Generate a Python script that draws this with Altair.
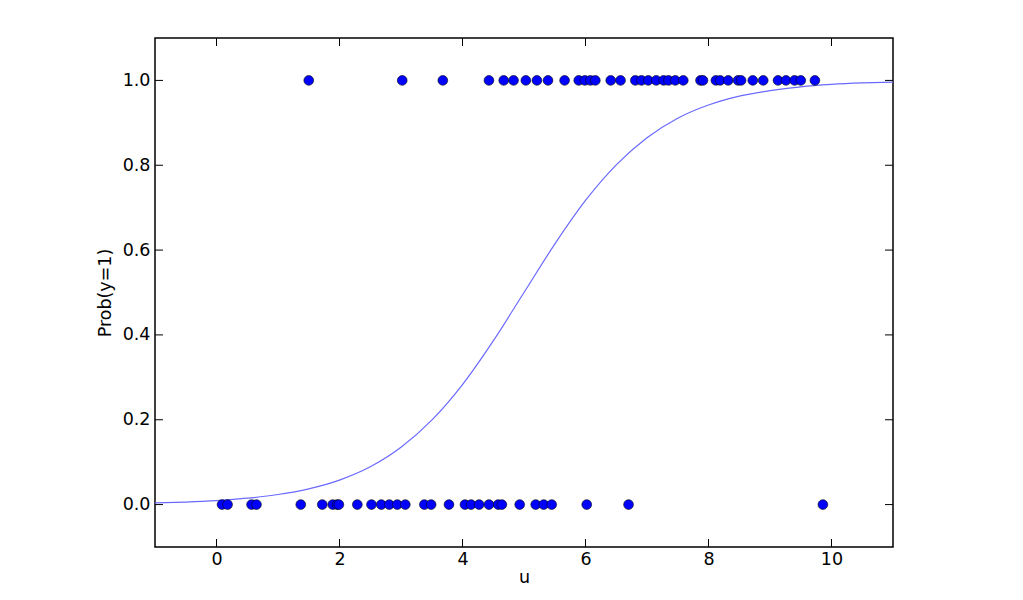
import altair as alt
import pandas as pd

# observations with y = 1
u_one = [1.50, 3.02, 3.68, 4.43, 4.67, 4.83, 5.03, 5.21, 5.39, 5.66, 5.89, 5.99,
         6.08, 6.16, 6.41, 6.57, 6.81, 6.91, 7.02, 7.15, 7.27, 7.35, 7.46, 7.59,
         7.87, 7.91, 8.12, 8.19, 8.32, 8.48, 8.53, 8.72, 8.89, 9.13, 9.26, 9.40,
         9.50, 9.73]
# observations with y = 0
u_zero = [0.09, 0.18, 0.57, 0.65, 1.37, 1.72, 1.89, 1.96, 1.99, 2.29, 2.52, 2.68,
          2.81, 2.94, 3.07, 3.38, 3.49, 3.78, 4.04, 4.14, 4.27, 4.43, 4.58, 4.64,
          4.93, 5.19, 5.32, 5.45, 6.02, 6.70, 9.86]

# fitted curve
curve_u = [-1, -0.5, 0, 0.5, 1, 1.5, 2, 2.5, 3, 3.5, 4, 4.5, 5, 5.5, 6, 6.5, 7,
           7.5, 8, 8.5, 9, 9.5, 10, 10.5, 11]
curve_p = [0.0038, 0.0060, 0.0095, 0.0150, 0.0237, 0.0372, 0.0578, 0.089, 0.135,
           0.199, 0.283, 0.386, 0.5, 0.614, 0.717, 0.801, 0.865, 0.911, 0.942,
           0.963, 0.976, 0.985, 0.9905, 0.9940, 0.9962]

x_ticks = [0, 2, 4, 6, 8, 10]
y_ticks = [0.0, 0.2, 0.4, 0.6, 0.8, 1.0]

W, H = 738, 509
FONT = "DejaVu Sans"
FS = 17.5

pts = pd.DataFrame({"u": u_one + u_zero,
                    "y": [1.0] * len(u_one) + [0.0] * len(u_zero)})
cur = pd.DataFrame({"u": curve_u, "p": curve_p})
xt = pd.DataFrame({"t": x_ticks})
yt = pd.DataFrame({"t": y_ticks})

xs = alt.Scale(domain=[-1, 11], nice=False, zero=False)
ys = alt.Scale(domain=[-0.1, 1.1], nice=False, zero=False)

xaxis = alt.Axis(values=x_ticks, tickSize=0, domain=False, grid=False,
                 labelFont=FONT, labelFontSize=FS, labelColor="black",
                 labelPadding=3, title="u", titleFont=FONT, titleFontSize=FS,
                 titleFontWeight="normal", titleColor="black", titlePadding=1)
yaxis = alt.Axis(values=y_ticks, format=".1f", tickSize=0, domain=False, grid=False,
                 labelFont=FONT, labelFontSize=FS, labelColor="black",
                 labelPadding=5, title="Prob(y=1)", titleFont=FONT, titleFontSize=FS,
                 titleFontWeight="normal", titleColor="black", titlePadding=8)

line = alt.Chart(cur).mark_line(color="#6a6aff", strokeWidth=1.2,
                                interpolate="monotone", clip=True).encode(
    x=alt.X("u:Q", scale=xs, axis=xaxis, title="u"),
    y=alt.Y("p:Q", scale=ys, axis=yaxis, title="Prob(y=1)"),
)

points = alt.Chart(pts).mark_point(filled=True, size=95, color="#0000ff",
                                   stroke="black", strokeWidth=0.6,
                                   opacity=1).encode(
    x=alt.X("u:Q", scale=xs, axis=xaxis, title="u"),
    y=alt.Y("y:Q", scale=ys, axis=yaxis, title="Prob(y=1)"),
)

xt_bottom = alt.Chart(xt).mark_rule(color="black", strokeWidth=1).encode(
    x=alt.X("t:Q", scale=xs, axis=xaxis, title="u"), y=alt.value(H), y2=alt.value(H - 8))
xt_top = alt.Chart(xt).mark_rule(color="black", strokeWidth=1).encode(
    x=alt.X("t:Q", scale=xs, axis=xaxis, title="u"), y=alt.value(0), y2=alt.value(8))
yt_left = alt.Chart(yt).mark_rule(color="black", strokeWidth=1).encode(
    y=alt.Y("t:Q", scale=ys, axis=yaxis, title="Prob(y=1)"), x=alt.value(0), x2=alt.value(8))
yt_right = alt.Chart(yt).mark_rule(color="black", strokeWidth=1).encode(
    y=alt.Y("t:Q", scale=ys, axis=yaxis, title="Prob(y=1)"), x=alt.value(W), x2=alt.value(W - 8))

chart = alt.layer(line, points, xt_bottom, xt_top, yt_left, yt_right).properties(
    width=W, height=H,
    autosize=alt.AutoSizeParams(type="none"),
    padding={"left": 147, "top": 30, "right": 120, "bottom": 45},
    background="white",
).configure_view(stroke="black", strokeWidth=1.5)

chart.save("out.html", embed_options={"renderer": "svg", "actions": False})
